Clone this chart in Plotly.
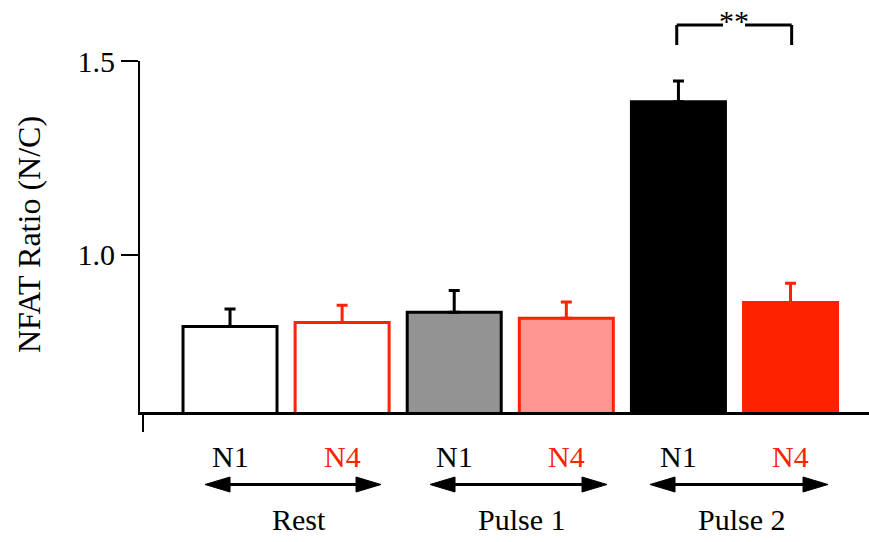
import plotly.graph_objects as go

# ---- data ----
categories = ["N1", "N4", "N1", "N4", "N1", "N4"]
means = [0.814, 0.824, 0.851, 0.835, 1.395, 0.876]
errors = [0.045, 0.045, 0.056, 0.042, 0.053, 0.050]
groups = ["Rest", "Pulse 1", "Pulse 2"]
y_tick_vals = [1.0, 1.5]
y_tick_text = ["1.0", "1.5"]

# ---- styles ----
RED = "#ff2200"
fills = ["#ffffff", "#ffffff", "#939393", "#ff9590", "#000000", RED]
lines = ["#000000", RED, "#000000", RED, "#000000", RED]
FONT = "Liberation Serif"

W, H = 869, 542
L, R, T, B = 140, 0, 61, 130
x_left, x_right = -0.803, 5.70

fig = go.Figure()
for i, (m, e) in enumerate(zip(means, errors)):
    fig.add_trace(go.Bar(
        x=[i], y=[m], width=0.8385,
        marker=dict(color=fills[i], line=dict(color=lines[i], width=3)),
        error_y=dict(type="data", symmetric=False, array=[e], arrayminus=[0],
                     color=lines[i], thickness=3, width=5.5),
        showlegend=False,
    ))

shapes = []


def ppx(px):
    return (px - 230) / 112.1


def ppy(py):
    return (412 - py) / (H - T - B)


# significance bracket
y_top, y_bot = ppy(25), ppy(45)
bl, br = 3.985, 5.01
gl, gr = ppx(723), ppx(745)
for (x0, y0, x1, y1) in [(bl, y_bot, bl, y_top), (bl, y_top, gl, y_top),
                         (gr, y_top, br, y_top), (br, y_top, br, y_bot)]:
    shapes.append(dict(type="line", xref="x", yref="paper", x0=x0, y0=y0, x1=x1, y1=y1,
                       line=dict(color="black", width=3)))

# double-headed arrows under groups
arrow_spans = [(ppx(205), ppx(381)), (ppx(430), ppx(607)), (ppx(650), ppx(828))]
ya = ppy(484.5)
hh = 7.5 / (H - T - B)
hl = 25 / 112.1
for (a0, a1) in arrow_spans:
    shapes.append(dict(type="line", xref="x", yref="paper", x0=a0 + hl * 0.8, y0=ya,
                       x1=a1 - hl * 0.8, y1=ya, line=dict(color="black", width=3)))
    shapes.append(dict(type="path", xref="x", yref="paper",
                       path=f"M {a0} {ya} L {a0 + hl} {ya + hh} L {a0 + hl} {ya - hh} Z",
                       fillcolor="black", line=dict(color="black", width=1)))
    shapes.append(dict(type="path", xref="x", yref="paper",
                       path=f"M {a1} {ya} L {a1 - hl} {ya + hh} L {a1 - hl} {ya - hh} Z",
                       fillcolor="black", line=dict(color="black", width=1)))

# small tick below x axis at left
shapes.append(dict(type="line", xref="x", yref="paper", x0=ppx(143), x1=ppx(143),
                   y0=ppy(413), y1=ppy(432), line=dict(color="black", width=2)))

annotations = []
annotations.append(dict(text="**", x=4.5, xref="x", y=ppy(20), yref="paper",
                        showarrow=False, font=dict(family=FONT, size=30, color="black"),
                        xanchor="center", yanchor="middle"))
for i, c in enumerate(categories):
    annotations.append(dict(text=c, x=i, xref="x", y=ppy(456), yref="paper",
                            showarrow=False, xanchor="center", yanchor="middle",
                            font=dict(family=FONT, size=30, color=lines[i])))
group_x = [ppx(298.5), ppx(522), ppx(742)]
for gx, g in zip(group_x, groups):
    annotations.append(dict(text=g, x=gx, xref="x", y=ppy(519), yref="paper",
                            showarrow=False, xanchor="center", yanchor="middle",
                            font=dict(family=FONT, size=30, color="black")))
annotations.append(dict(text="NFAT Ratio (N/C)", textangle=-90, x=(29 - L) / (W - L - R),
                        xref="paper", y=ppy(235), yref="paper", showarrow=False,
                        xanchor="center", yanchor="middle",
                        font=dict(family=FONT, size=32, color="black")))

fig.update_layout(
    width=W, height=H,
    margin=dict(l=L, r=R, t=T, b=B, pad=0),
    plot_bgcolor="white", paper_bgcolor="white",
    barmode="overlay",
    font=dict(family=FONT),
    shapes=shapes, annotations=annotations,
    xaxis=dict(range=[x_left, x_right], showgrid=False, zeroline=False,
               showticklabels=False, ticks="", showline=True, linecolor="black",
               linewidth=2.5),
    yaxis=dict(range=[0.593, 1.5], showgrid=False, zeroline=False,
               tickvals=y_tick_vals, ticktext=y_tick_text, ticks="outside",
               ticklen=17, tickwidth=2, tickcolor="black",
               showline=True, linecolor="black", linewidth=2,
               tickfont=dict(family=FONT, size=30, color="black")),
)

fig.write_html("out.html")
